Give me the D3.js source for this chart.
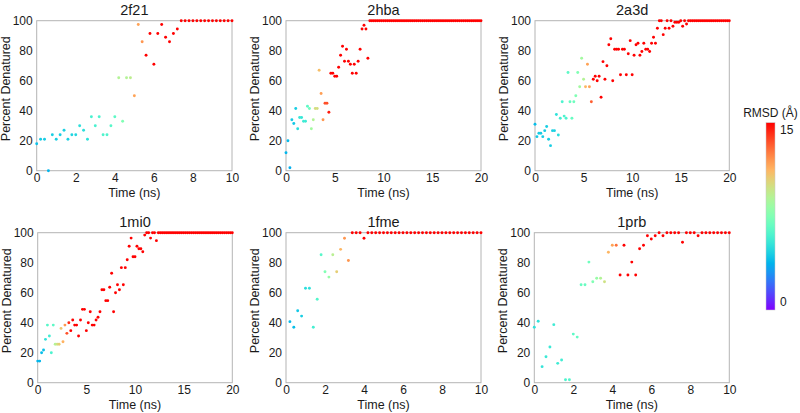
<!DOCTYPE html>
<html><head><meta charset="utf-8">
<script src="https://cdn.jsdelivr.net/npm/d3@7/dist/d3.min.js"></script>
<style>
body{margin:0;background:#fff}
text{font-family:"Liberation Sans",Arial,Helvetica,sans-serif;fill:#1a1a1a}
</style>
</head><body>
<svg id="chart" width="800" height="413"></svg>
<script>
// ---------------- data ----------------
const proteins = ["2f21", "2hba", "2a3d", "1mi0", "1fme", "1prb"];
const timeMax = [10, 20, 20, 20, 10, 10];
const xTicks10 = [0, 2, 4, 6, 8, 10];
const xTicks20 = [0, 5, 10, 15, 20];
const yTicks = [0, 20, 40, 60, 80, 100];
const frameStep = 0.2; // ns between saved frames
const rmsdTicks = [0, 15];
const rmsdMax = 15;

const pct_2f21 = [18,21,21,0,24,21,24,27,21,24, 24,30,27,21,36,30,36,24,24,30,
  36,62,33,62,62,50,97.5,86,77,91.5, 71,91.5,97.5,89,86,91.5,94.5,100,100,100,
  100,100,100,100,100,100,100,100,100,100, 100];
const rmsd_2f21 = [4.1,4.4,4.4,3.8,4.5,4.5,4.5,4.6,4.6,4.7, 4.8,5.1,5.1,5.2,5.9,5.9,6,6.1,6.1,6.3,
  6.5,9,7.5,9,9.3,11.7,11.7,12,15,15, 15,15,15,15,15,15,15,15,15,15,
  15,15,15,15,15,15,15,15,15,15, 15];

const pct_2hba = [12,20,2,34,31.5,41.5,28,35.5,35.5,33, 33,43,41.5,28,34,41.5,41.5,67,51.5,34,
  45,45,39,65,65,63,63,69,77,83, 73,81,73,71,65,71,65,73,81,94.5,
  97,94.5,75,100,100,100,100,100,100,100, 100,100,100,100,100,100,100,100,100,100,
  100,100,100,100,100,100,100,100,100,100, 100,100,100,100,100,100,100,100,100,100,
  100,100,100,100,100,100,100,100,100,100, 100,100,100,100,100,100,100,100,100,100, 100];
const rmsd_2hba = [3.8,3.9,3.6,4.4,4.3,4.5,5,5.4,5.4,5.6, 5.6,6.5,7,8.5,9,10,10,11,11.8,12,
  13.5,13.5,14.5,15,15,15,15,15,15,15, 15,15,15,15,15,15,15,15,15,15,
  15,15,15,15,15,15,15,15,15,15, 15,15,15,15,15,15,15,15,15,15,
  15,15,15,15,15,15,15,15,15,15, 15,15,15,15,15,15,15,15,15,15,
  15,15,15,15,15,15,15,15,15,15, 15,15,15,15,15,15,15,15,15,15, 15];

const pct_2a3d = [31,22.7,25,25,22.7,26.7,29.5,21,16.7,26.7, 26.7,37.5,23.8,35,46,36.4,35,65.5,46,35,
  46,50,65.5,56,75,61,56,71,56,46, 61,63,60,63,49,72.7,61,70,84,88,
  60,81,81,81,64,81,81,64,78,86.7, 64,77,84,85,77,79.5,85,81,81,79.5,
  85,89,85,95,100,100,90.7,95,100,95, 100,96.3,99,99,99,100,96.3,100,97.8,100,
  100,100,100,100,100,100,100,100,100,100, 100,100,100,100,100,100,100,100,100,100, 100];
const rmsd_2a3d = [4,4.3,4.4,4.4,4.4,4.5,4.5,4.5,4.5,4.6, 4.6,5.2,5,5.7,6,6,6,6.5,6.8,6.8,
  7,7.5,7.5,8.5,8.5,9,11.2,11.7,11.7,13.2, 15,15,15,15,15,15,15,15,15,15,
  15,15,15,15,15,15,15,15,15,15, 15,15,15,15,15,15,15,15,15,15,
  15,15,15,15,15,15,15,15,15,15, 15,15,15,15,15,15,15,15,15,15,
  15,15,15,15,15,15,15,15,15,15, 15,15,15,15,15,15,15,15,15,15, 15];

const pct_1mi0 = [14.4,14.4,20,21.8,28.9,38.4,31.1,20,38.4,25.6, 25.6,25.6,36.2,27.3,38.4,32.9,40,34.7,41.8,38.4,
  38.4,31.1,41.8,48.9,48.9,34.7,40,47.3,38.4,38.4, 41.8,43.6,47.3,62,62,54.7,54.7,63.6,73,47.3,
  60,65.3,62,76.7,65.3,76.7,82,91,96.4,84, 84,91,89.3,89.3,87.3,98.4,100,100,96.4,100,
  100,94.7,100,100,100,100,100,100,100,100, 100,100,100,100,100,100,100,100,100,100,
  100,100,100,100,100,100,100,100,100,100, 100,100,100,100,100,100,100,100,100,100, 100];
const rmsd_1mi0 = [3.8,3.8,4,4.1,5.2,6.3,5.7,6,6.5,9, 9.8,10.5,10.8,11.3,12,13.5,14.2,15,15,15,
  15,15,15,15,15,15,15,15,15,15, 15,15,15,15,15,15,15,15,15,15,
  15,15,15,15,15,15,15,15,15,15, 15,15,15,15,15,15,15,15,15,15,
  15,15,15,15,15,15,15,15,15,15, 15,15,15,15,15,15,15,15,15,15,
  15,15,15,15,15,15,15,15,15,15, 15,15,15,15,15,15,15,15,15,15, 15];

const pct_1fme = [null,40.7,37,48,44.4,63,63,37,55.6,85.3, 74,70.4,85.3,74,88.9,96.3,81.5,100,100,100,
  96.3,100,100,100,100,100,100,100,100,100, 100,100,100,100,100,100,100,100,100,100,
  100,100,100,100,100,100,100,100,100,100, 100];
const rmsd_1fme = [null,3.9,4,4.3,4.5,5,5.2,5.8,6.2,6.3, 7.5,8.2,9.2,10.5,11.2,12,12,15,15,15,
  15,15,15,15,15,15,15,15,15,15, 15,15,15,15,15,15,15,15,15,15,
  15,15,15,15,15,15,15,15,15,15, 15];

const pct_1prb = [37,41,10.7,17.3,23.8,38.7,12.9,15.1,2,2, 32.4,30.4,65.3,65.3,80.4,67.3,69.6,69.6,67.3,87,
  91.6,91.6,71.8,91.6,71.8,80.4,71.8,89.3,91.6,98, 95.8,98,100,98,100,100,100,100,93.6,100,
  100,100,98,100,100,100,100,100,100,100, 100];
const rmsd_1prb = [5.2,5.2,5.3,5.5,5.5,5.6,5.6,5.7,6,6.2, 6.5,6.7,6.8,6.8,7,7.5,8.2,9,9.8,11.2,
  11.7,12.8,15,15,15,15,15,15,15,15, 15,15,15,15,15,15,15,15,15,15,
  15,15,15,15,15,15,15,15,15,15, 15];

const pctSeries = [pct_2f21, pct_2hba, pct_2a3d, pct_1mi0, pct_1fme, pct_1prb];
const rmsdSeries = [rmsd_2f21, rmsd_2hba, rmsd_2a3d, rmsd_1mi0, rmsd_1fme, rmsd_1prb];

// ---------------- layout ----------------
const boxes = [
  {l: 36.7, r: 232, t: 20.7, b: 170.7},
  {l: 286, r: 481, t: 20.7, b: 170.7},
  {l: 535, r: 729.3, t: 20.7, b: 170.7},
  {l: 37.7, r: 232.3, t: 232.7, b: 382.7},
  {l: 286, r: 481, t: 232.7, b: 382.7},
  {l: 534.3, r: 729.3, t: 232.7, b: 382.7}
];

// matplotlib "rainbow" colormap
function rainbow(t) {
  const x = Math.max(0, Math.min(1, t));
  const r = Math.min(1, Math.abs(2 * x - 0.5));
  const g = Math.sin(Math.PI * x);
  const b = Math.cos(Math.PI * x / 2);
  return d3.rgb(r * 255, g * 255, b * 255).formatHex();
}
const colorScale = d3.scaleSequential(rainbow).domain([0, rmsdMax]).clamp(true);

const svg = d3.select("#chart");

proteins.forEach((name, k) => {
  const bx = boxes[k];
  const x = d3.scaleLinear().domain([0, timeMax[k]]).range([bx.l, bx.r]);
  const y = d3.scaleLinear().domain([0, 100]).range([bx.b, bx.t]);
  const g = svg.append("g");

  // frame
  g.append("rect").attr("x", bx.l).attr("y", bx.t)
    .attr("width", bx.r - bx.l).attr("height", bx.b - bx.t)
    .attr("fill", "none").attr("stroke", "#b4b4b4").attr("stroke-width", 1);

  // axes (labels only)
  const xt = timeMax[k] === 10 ? xTicks10 : xTicks20;
  const xAxis = d3.axisBottom(x).tickValues(xt).tickSize(0).tickPadding(3).tickFormat(d3.format("d"));
  g.append("g").attr("transform", `translate(0,${bx.b})`).call(xAxis)
    .call(s => s.select(".domain").remove())
    .selectAll("text").attr("font-size", 12).attr("fill", "#1a1a1a")
    .style("font-family", '"Liberation Sans",Arial,sans-serif');
  const yAxis = d3.axisLeft(y).tickValues(yTicks).tickSize(0).tickPadding(4).tickFormat(d3.format("d"));
  g.append("g").attr("transform", `translate(${bx.l},0)`).call(yAxis)
    .call(s => s.select(".domain").remove())
    .selectAll("text").attr("font-size", 12).attr("fill", "#1a1a1a")
    .style("font-family", '"Liberation Sans",Arial,sans-serif');

  // title
  g.append("text").attr("x", (bx.l + bx.r) / 2).attr("y", bx.t - 5.5)
    .attr("text-anchor", "middle").attr("font-size", 14.5).text(name);
  // x label
  g.append("text").attr("x", (bx.l + bx.r) / 2).attr("y", bx.b + 26.5)
    .attr("text-anchor", "middle").attr("font-size", 12.5).text("Time (ns)");
  // y label
  const ylx = bx.l - 27;
  const yly = (bx.t + bx.b) / 2 - 7;
  g.append("text").attr("transform", `translate(${ylx},${yly}) rotate(-90)`)
    .attr("text-anchor", "middle").attr("font-size", 12.5).text("Percent Denatured");

  // points
  const pts = pctSeries[k].map((p, i) => ({t: i * frameStep, p: p, r: rmsdSeries[k][i]}))
    .filter(d => d.p !== null);
  g.append("g").selectAll("circle").data(pts).join("circle")
    .attr("cx", d => x(d.t)).attr("cy", d => y(d.p)).attr("r", 1.45)
    .attr("fill", d => colorScale(d.r));
});

// ---------------- colorbar ----------------
const cb = {x: 766, w: 9, t: 122.7, b: 310};
const defs = svg.append("defs");
const grad = defs.append("linearGradient").attr("id", "cbgrad")
  .attr("x1", 0).attr("y1", 1).attr("x2", 0).attr("y2", 0);
d3.range(0, 1.0001, 0.05).forEach(s => {
  grad.append("stop").attr("offset", s).attr("stop-color", colorScale(s * rmsdMax));
});
svg.append("rect").attr("x", cb.x).attr("y", cb.t).attr("width", cb.w).attr("height", cb.b - cb.t)
  .attr("fill", "url(#cbgrad)").attr("stroke", "#c8c8c8").attr("stroke-width", 0.5);
const cbScale = d3.scaleLinear().domain([0, rmsdMax]).range([cb.b - 4.5, cb.t + 11.5]);
svg.append("g").selectAll("text").data(rmsdTicks).join("text")
  .attr("x", cb.x + cb.w + 5).attr("y", d => cbScale(d))
  .attr("font-size", 12).text(d => d);
svg.append("text").attr("x", cb.x + cb.w / 2).attr("y", cb.t - 6)
  .attr("text-anchor", "middle").attr("font-size", 12).text("RMSD (Å)");
</script>
</body></html>
